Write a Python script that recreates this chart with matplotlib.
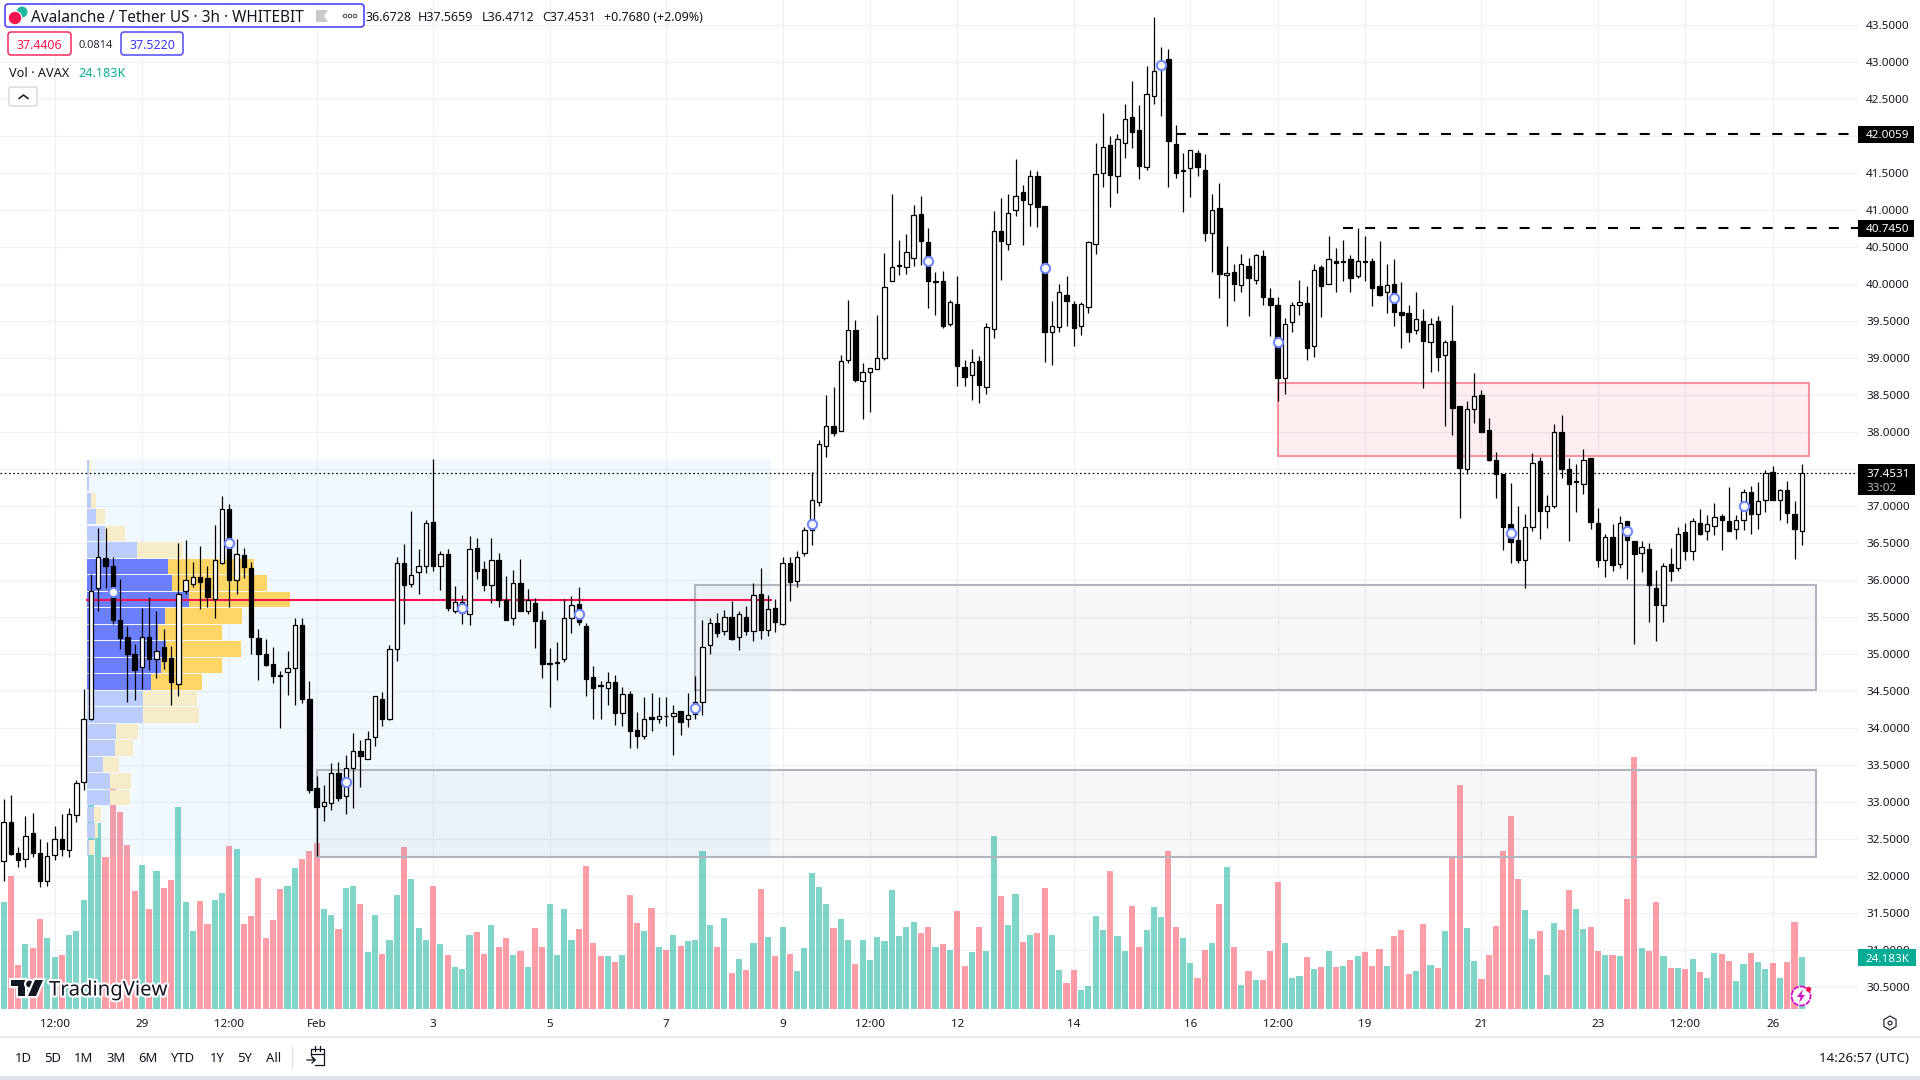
import matplotlib
matplotlib.use("Agg")
import matplotlib.pyplot as plt
import matplotlib.patheffects as pe
from matplotlib.patches import Rectangle, FancyBboxPatch, Circle, Polygon, RegularPolygon

plt.rcParams["font.family"] = ["Noto Sans", "DejaVu Sans"]

opens = [
    32.21, 32.73, 32.32, 32.24, 32.58, 32.32, 31.93, 32.29, 32.51, 32.35,
    32.83, 33.28, 34.12, 35.89, 36.30, 36.19, 35.47, 35.23, 35.01, 34.83,
    35.24, 34.93, 35.10, 34.95, 34.60, 35.86, 35.95, 36.04, 36.03, 35.75,
    36.24, 36.97, 36.00, 36.34, 36.16, 35.22, 35.00, 34.87, 34.72, 34.76,
    34.82, 35.39, 34.40, 33.19, 32.95, 32.99, 33.40, 33.08, 33.46, 33.70,
    33.59, 33.88, 34.40, 34.12, 35.07, 36.23, 35.95, 36.11, 36.19, 36.79,
    36.19, 36.36, 35.59, 35.56, 35.55, 36.43, 36.15, 35.93, 36.28, 35.73,
    35.49, 35.96, 35.59, 35.69, 35.47, 34.87, 34.88, 34.93, 35.49, 35.68,
    35.38, 34.69, 34.58, 34.55, 34.63, 34.21, 34.47, 33.98, 33.89, 34.15,
    34.13, 34.17, 34.16, 34.23, 34.12, 34.19, 34.35, 35.13, 35.42, 35.31,
    35.50, 35.23, 35.51, 35.32, 35.82, 35.33, 35.63, 35.41, 36.24, 35.99,
    36.37, 36.68, 37.06, 37.81, 38.09, 38.02, 38.98, 39.38, 38.70, 38.81,
    38.85, 39.00, 40.05, 40.25, 40.23, 40.36, 40.95, 40.57, 40.03, 40.04,
    39.47, 39.73, 38.88, 38.77, 38.96, 38.61, 39.39, 40.72, 40.54, 41.01,
    41.25, 41.09, 41.46, 41.06, 39.35, 39.42, 39.86, 39.73, 39.44, 39.70,
    40.55, 41.51, 41.88, 41.46, 41.91, 42.26, 42.09, 41.59, 42.54, 42.93,
    43.04, 41.89, 41.53, 41.57, 41.77, 41.54, 40.69, 41.03, 40.12, 40.16,
    39.99, 40.25, 40.06, 40.38, 39.81, 39.72, 38.74, 39.49, 39.72, 39.75,
    39.16, 40.23, 40.00, 40.31, 40.30, 40.34, 40.11, 40.31, 40.32, 39.98,
    39.89, 40.01, 39.63, 39.61, 39.38, 39.51, 39.22, 39.50, 39.05, 39.24,
    38.35, 37.51, 38.31, 38.51, 38.03, 37.62, 37.43, 36.76, 36.55, 36.28,
    36.72, 37.61, 36.94, 37.01, 38.01, 37.50, 37.33, 37.30, 37.65, 36.77,
    36.27, 36.58, 36.22, 36.80, 36.53, 36.37, 36.42, 35.89, 35.67, 36.22,
    36.16, 36.65, 36.40, 36.77, 36.66, 36.74, 36.87, 36.80, 36.69, 36.81,
    37.19, 36.89, 37.09, 37.46, 37.08, 37.22, 36.89, 36.67,
]
closes = [
    32.73, 32.30, 32.22, 32.55, 32.32, 31.93, 32.28, 32.50, 32.37, 32.84,
    33.26, 34.12, 35.86, 36.31, 36.20, 35.46, 35.22, 35.01, 34.79, 35.24,
    34.93, 35.04, 34.91, 34.63, 35.82, 36.01, 36.04, 35.98, 35.78, 36.28,
    36.97, 36.01, 36.35, 36.18, 35.24, 35.00, 34.86, 34.71, 34.71, 34.82,
    35.39, 34.39, 33.16, 32.94, 33.01, 33.40, 33.06, 33.46, 33.69, 33.63,
    33.86, 34.43, 34.13, 35.07, 36.23, 35.94, 36.07, 36.20, 36.78, 36.20,
    36.35, 35.63, 35.71, 35.71, 36.42, 36.12, 35.93, 36.28, 35.74, 35.47,
    35.96, 35.59, 35.73, 35.45, 34.87, 34.88, 34.90, 35.49, 35.66, 35.43,
    34.66, 34.55, 34.57, 34.63, 34.21, 34.47, 33.97, 33.90, 34.13, 34.12,
    34.16, 34.16, 34.21, 34.09, 34.18, 34.35, 35.10, 35.42, 35.29, 35.51,
    35.21, 35.55, 35.32, 35.80, 35.33, 35.61, 35.43, 36.24, 35.98, 36.31,
    36.68, 37.09, 37.84, 38.08, 37.99, 38.96, 39.38, 38.71, 38.81, 38.87,
    39.01, 39.97, 40.23, 40.26, 40.43, 40.93, 40.59, 40.04, 40.04, 39.43,
    39.76, 38.89, 38.75, 38.95, 38.64, 39.42, 40.72, 40.58, 40.97, 41.20,
    41.14, 41.47, 41.05, 39.36, 39.44, 39.89, 39.77, 39.41, 39.73, 40.57,
    41.49, 41.85, 41.48, 41.96, 42.24, 42.06, 41.60, 42.57, 42.88, 43.00,
    41.93, 41.50, 41.54, 41.81, 41.58, 40.70, 41.00, 40.14, 40.15, 40.01,
    40.27, 40.08, 40.39, 39.83, 39.72, 38.74, 39.47, 39.72, 39.76, 39.14,
    40.20, 39.98, 40.34, 40.29, 40.31, 40.08, 40.31, 40.30, 39.95, 39.86,
    39.99, 39.62, 39.59, 39.36, 39.53, 39.24, 39.47, 39.02, 39.22, 38.33,
    37.52, 38.31, 38.49, 38.01, 37.63, 37.43, 36.72, 36.52, 36.28, 36.72,
    37.59, 36.94, 37.00, 38.01, 37.51, 37.30, 37.34, 37.63, 36.79, 36.28,
    36.59, 36.21, 36.78, 36.55, 36.36, 36.45, 35.93, 35.66, 36.19, 36.13,
    36.63, 36.39, 36.80, 36.62, 36.76, 36.85, 36.81, 36.66, 36.81, 37.19,
    36.89, 37.07, 37.45, 37.09, 37.22, 36.91, 36.69, 37.45,
]
highs = [
    33.05, 33.10, 32.40, 32.81, 32.85, 32.50, 32.46, 32.68, 32.84, 32.92,
    33.30, 34.53, 36.08, 36.71, 36.71, 36.31, 36.02, 35.38, 35.14, 35.63,
    35.77, 35.58, 35.34, 35.11, 36.50, 36.55, 36.25, 36.46, 36.19, 36.75,
    37.14, 37.03, 36.56, 36.44, 36.25, 35.34, 35.21, 35.10, 34.77, 35.05,
    35.49, 35.49, 34.64, 33.36, 33.23, 33.53, 33.54, 33.64, 33.93, 33.84,
    33.96, 34.43, 34.49, 35.13, 36.31, 36.49, 36.94, 36.42, 36.82, 37.64,
    36.39, 36.42, 35.92, 35.80, 36.60, 36.57, 36.26, 36.57, 36.37, 36.06,
    36.14, 36.29, 35.88, 35.76, 35.59, 35.09, 35.17, 35.75, 35.79, 35.91,
    35.42, 34.84, 34.64, 34.76, 34.72, 34.56, 34.50, 34.22, 34.42, 34.48,
    34.42, 34.42, 34.32, 34.23, 34.48, 34.71, 35.47, 35.49, 35.56, 35.60,
    35.72, 35.58, 35.65, 35.97, 36.17, 35.80, 35.75, 36.31, 36.31, 36.39,
    36.72, 37.46, 37.90, 38.50, 38.61, 39.04, 39.79, 39.52, 38.93, 38.87,
    39.59, 40.42, 41.22, 40.60, 40.68, 41.07, 41.20, 40.76, 40.17, 40.18,
    39.79, 40.11, 38.98, 39.13, 39.03, 39.48, 40.99, 41.16, 41.22, 41.70,
    41.34, 41.54, 41.53, 41.06, 39.77, 40.00, 40.11, 39.77, 39.76, 40.59,
    41.91, 42.31, 42.00, 42.03, 42.44, 42.75, 42.42, 42.95, 43.61, 43.21,
    43.18, 42.15, 41.78, 41.81, 41.82, 41.76, 41.22, 41.37, 40.52, 40.27,
    40.41, 40.35, 40.41, 40.46, 39.95, 39.83, 39.54, 39.76, 40.06, 39.98,
    40.27, 40.26, 40.65, 40.49, 40.60, 40.40, 40.76, 40.65, 40.36, 40.59,
    40.27, 40.34, 40.03, 39.72, 39.89, 39.67, 39.54, 39.57, 39.25, 39.72,
    38.35, 38.42, 38.80, 38.57, 38.19, 37.73, 37.43, 37.31, 37.01, 36.90,
    37.72, 37.67, 37.15, 38.11, 38.23, 37.65, 37.57, 37.77, 37.65, 36.98,
    36.63, 36.76, 36.87, 36.80, 36.53, 36.53, 36.50, 36.14, 36.23, 36.43,
    36.72, 36.77, 36.84, 36.96, 36.88, 37.04, 36.90, 37.26, 36.88, 37.24,
    37.27, 37.33, 37.49, 37.54, 37.23, 37.34, 37.07, 37.57,
]
lows = [
    31.93, 32.29, 32.12, 32.12, 32.26, 31.85, 31.87, 32.22, 32.27, 32.26,
    32.73, 33.17, 34.11, 35.59, 35.90, 35.41, 35.07, 34.36, 34.38, 34.53,
    34.79, 34.68, 34.80, 34.31, 34.44, 35.81, 35.91, 35.61, 35.64, 35.49,
    36.22, 35.64, 35.82, 36.03, 35.00, 34.65, 34.84, 34.61, 34.00, 34.45,
    34.31, 34.34, 33.13, 32.27, 32.75, 32.90, 33.02, 32.84, 32.92, 33.21,
    33.59, 33.76, 34.03, 34.11, 34.91, 35.41, 35.91, 35.82, 36.10, 36.12,
    35.87, 35.59, 35.56, 35.41, 35.40, 36.02, 35.86, 35.70, 35.64, 35.46,
    35.39, 35.59, 35.54, 35.08, 34.68, 34.29, 34.65, 34.89, 35.29, 35.39,
    34.44, 34.12, 34.12, 34.31, 34.04, 34.03, 33.74, 33.74, 33.86, 33.96,
    34.07, 34.03, 33.64, 33.91, 34.02, 34.13, 34.18, 35.00, 35.24, 35.26,
    35.19, 35.06, 35.26, 35.18, 35.21, 35.25, 35.30, 35.40, 35.72, 35.91,
    36.33, 36.48, 37.00, 37.67, 37.95, 38.02, 38.94, 38.68, 38.18, 38.27,
    38.85, 38.98, 40.05, 40.12, 40.14, 40.25, 40.26, 39.68, 39.58, 39.41,
    39.43, 38.63, 38.62, 38.43, 38.40, 38.52, 39.27, 40.06, 40.47, 40.92,
    40.53, 40.79, 40.77, 38.95, 38.91, 39.36, 39.44, 39.16, 39.31, 39.61,
    40.41, 41.31, 41.05, 41.24, 41.71, 41.84, 41.42, 41.55, 42.44, 42.27,
    41.32, 41.44, 40.98, 41.18, 41.46, 40.59, 40.17, 39.81, 39.43, 39.77,
    39.89, 39.57, 40.01, 39.72, 39.30, 38.42, 38.52, 39.36, 39.58, 38.98,
    39.02, 39.56, 40.00, 39.89, 40.04, 39.89, 40.08, 40.04, 39.71, 39.84,
    39.61, 39.44, 39.14, 39.22, 39.33, 38.60, 38.81, 38.83, 38.09, 37.96,
    36.84, 37.44, 38.13, 38.01, 37.61, 37.11, 36.41, 36.24, 36.24, 35.90,
    36.67, 36.56, 36.71, 36.98, 37.38, 36.53, 36.92, 37.17, 36.69, 36.18,
    36.05, 36.12, 36.16, 36.02, 35.14, 36.11, 35.43, 35.18, 35.43, 35.99,
    36.13, 36.27, 36.27, 36.61, 36.54, 36.61, 36.41, 36.66, 36.56, 36.68,
    36.63, 36.69, 36.92, 37.09, 36.81, 36.78, 36.29, 36.48,
]
# volume in thousands of AVAX
volumes = [
    49.8, 61.8, 20.5, 30.2, 28.4, 41.9, 33.0, 24.2, 25.1, 34.4,
    36.3, 50.7, 95.6, 86.5, 70.7, 108.8, 91.6, 76.3, 54.9, 67.0,
    46.5, 64.2, 56.3, 60.0, 93.9, 49.8, 36.3, 50.2, 39.5, 50.7,
    53.9, 75.8, 74.4, 39.5, 43.2, 60.9, 33.0, 41.4, 55.8, 57.2,
    65.6, 69.8, 73.5, 77.2, 46.5, 43.7, 37.2, 56.3, 57.2, 48.8,
    26.5, 43.7, 25.6, 32.1, 53.0, 75.3, 60.5, 37.7, 32.1, 57.2,
    30.2, 25.1, 19.5, 18.6, 34.4, 35.8, 25.6, 39.1, 28.8, 33.0,
    25.1, 27.0, 19.5, 37.7, 28.8, 48.8, 25.1, 46.5, 32.1, 37.2,
    66.5, 30.7, 24.6, 24.6, 21.9, 25.1, 53.0, 40.0, 36.3, 47.0,
    28.8, 27.4, 34.4, 29.3, 31.6, 32.1, 73.5, 39.1, 28.8, 42.3,
    16.7, 23.3, 18.1, 30.7, 55.8, 33.5, 24.6, 38.1, 25.6, 17.7,
    28.4, 63.2, 56.7, 48.8, 37.7, 41.9, 32.1, 20.9, 32.1, 22.8,
    33.5, 31.6, 55.3, 33.9, 38.1, 40.5, 35.3, 38.1, 28.8, 30.2,
    27.4, 45.6, 20.0, 26.5, 38.1, 27.0, 80.4, 52.5, 39.1, 53.5,
    31.2, 34.4, 35.3, 56.3, 34.4, 18.1, 12.1, 18.1, 8.8, 10.7,
    43.2, 36.7, 64.2, 33.9, 27.0, 47.9, 28.8, 36.7, 47.4, 42.8,
    73.5, 38.1, 33.0, 21.4, 14.4, 27.4, 30.7, 48.8, 66.0, 28.8,
    11.2, 17.7, 13.5, 13.5, 27.0, 59.1, 30.7, 14.4, 15.3, 24.2,
    18.6, 19.5, 27.0, 19.5, 20.0, 22.8, 24.6, 26.5, 20.0, 27.9,
    20.0, 33.9, 36.7, 16.3, 17.7, 39.5, 20.5, 19.1, 36.3, 70.7,
    104.2, 37.7, 22.3, 14.0, 25.1, 38.6, 73.5, 89.7, 60.5, 46.0,
    32.6, 36.3, 15.8, 40.0, 36.7, 55.3, 46.5, 37.2, 38.1, 27.0,
    25.1, 25.1, 24.6, 51.2, 117.2, 28.4, 27.0, 49.8, 24.6, 19.1,
    19.1, 18.6, 23.3, 17.2, 14.4, 26.0, 25.6, 22.3, 13.0, 20.9,
    26.0, 21.9, 18.6, 21.4, 14.4, 21.9, 40.5, 24.18,
]

# blue circles on the chart, every 16 bars
mark_bars = [15, 31, 47, 63, 79, 95, 111, 127, 143, 159, 175, 191, 207, 223, 239]
mark_prices = [35.84, 36.50, 33.27, 35.63, 35.55, 34.27, 36.76, 40.31, 40.22, 42.97,
               39.22, 39.81, 36.64, 36.67, 37.00]

tick_bars = [7, 19, 31, 43, 59, 75, 91, 107, 119, 131, 147, 163, 175, 187, 203, 219, 231, 243]
tick_labels = ["12:00", "29", "12:00", "Feb", "3", "5", "7", "9", "12:00", "12",
               "14", "16", "12:00", "19", "21", "23", "12:00", "26"]
price_ticks = [30.5 + 0.5 * k for k in range(27)]

# volume profile rows, top row first, in profile units
vp_top = 37.64
vp_row = 0.2233
vp_buy = [6, 5, 12, 27, 55, 150, 243, 255, 306, 234, 212, 237, 222, 192, 168, 168,
          87, 84, 48, 69, 69, 21, 24, 6]
vp_sell = [6, 2, 15, 27, 59, 138, 258, 285, 303, 231, 193, 225, 183, 153, 162, 168,
           66, 54, 48, 63, 60, 21, 9, 15]
vp_value_rows = range(6, 14)
poc_price = 35.74

last_price = 37.4531
level_prices = [42.03, 40.76]
level_starts = [161, 184]
level_labels = ["42.0059", "40.7450"]

range_buttons = ["1D", "5D", "1M", "3M", "6M", "YTD", "1Y", "5Y", "All"]
range_button_x = [23, 52.6, 84, 116, 148, 183, 217, 245, 274]

UP = "#00AD93"
DOWN = "#FF3D51"
INK = "#131722"
GRID = "#eff1f5"

fig = plt.figure(figsize=(19.2, 10.8), dpi=100)
fig.patch.set_facecolor("white")

rect = [0, 71 / 1080, 1858 / 1920, 1009 / 1080]
xlim = (-0.4945, 254.72)
ylim = (30.207, 43.842)

grid_ax = fig.add_axes(rect)
vol_ax = fig.add_axes(rect, sharex=grid_ax)
ax = fig.add_axes(rect, sharex=grid_ax, sharey=grid_ax)

# background axes holds the grid and both tick label sets
grid_ax.set_xlim(xlim)
grid_ax.set_ylim(ylim)
grid_ax.set_xticks(tick_bars)
grid_ax.set_xticklabels(tick_labels, fontsize=8.4, color=INK)
for lab in grid_ax.get_xticklabels():
    if lab.get_text() == "Feb":
        lab.set_fontweight("bold")
grid_ax.set_yticks(price_ticks)
grid_ax.set_yticklabels(["%.4f" % p for p in price_ticks], fontsize=8.4, color=INK)
grid_ax.yaxis.tick_right()
grid_ax.tick_params(axis="both", length=0)
grid_ax.tick_params(axis="y", pad=5.8)
grid_ax.tick_params(axis="x", pad=7.3)
grid_ax.grid(True, color=GRID, lw=0.9)
grid_ax.set_axisbelow(True)
for s in grid_ax.spines.values():
    s.set_visible(False)

bars = list(range(len(closes)))
vol_colors = [UP if c >= o else DOWN for o, c in zip(opens, closes)]
vol_ax.bar(bars, volumes, width=0.84, color=vol_colors, alpha=0.5, linewidth=0)
vol_ax.set_ylim(0, 469.2)
vol_ax.axis("off")
vol_ax.patch.set_visible(False)

ax.axis("off")
ax.patch.set_visible(False)

# zones
ax.add_patch(Rectangle((11.46, 32.28), 93.9, 5.36, fc="#2196f3", alpha=0.055, lw=0, zorder=1))
for (x0, x1, lo, hi) in [(43, 249, 32.26, 33.44), (95, 249, 34.52, 35.94)]:
    ax.add_patch(Rectangle((x0, lo), x1 - x0, hi - lo, fc=(0.47, 0.48, 0.55, 0.06),
                           ec="#b2b5be", lw=1.5, zorder=2))
ax.add_patch(Rectangle((175, 37.68), 73, 0.98, fc=(0.95, 0.21, 0.27, 0.085),
                       ec="#f7929f", lw=1.5, zorder=2))

# volume profile
px_per_bar = 7.28
vp_scale = 1 / (3 * px_per_bar)
for k in range(len(vp_buy)):
    inside = k in vp_value_rows
    y = vp_top - (k + 0.5) * vp_row
    w1 = vp_buy[k] * vp_scale
    w2 = vp_sell[k] * vp_scale
    ax.barh(y, w1, left=11.46, height=vp_row * 0.93, lw=0, zorder=3,
            color="#6b7ffd" if inside else "#bccdfd")
    ax.barh(y, w2, left=11.46 + w1, height=vp_row * 0.93, lw=0, zorder=3,
            color="#ffd566" if inside else "#f6edc8")
ax.plot([11.46, 105.4], [poc_price, poc_price], color="#f9104f", lw=1.5, zorder=3.5)

# dashed levels and last price line
for lvl, start in zip(level_prices, level_starts):
    ax.plot([start, xlim[1]], [lvl, lvl], color="black", lw=1.5, zorder=4,
            dashes=(4.8, 5.8), dash_capstyle="butt")
ax.plot(xlim, [last_price, last_price], color="black", lw=0.9, zorder=4,
        dashes=(1.3, 2.1), dash_capstyle="butt")

# candles
for i in bars:
    ax.plot([i, i], [lows[i], highs[i]], color="black", lw=0.9, zorder=5,
            solid_capstyle="butt")
    top = max(opens[i], closes[i])
    bot = min(opens[i], closes[i])
    if closes[i] >= opens[i]:
        ax.bar(i, top - bot, bottom=bot, width=0.6, fc="white", ec="black", lw=0.9, zorder=6)
    else:
        ax.bar(i, top - bot, bottom=bot, width=0.6, fc="black", ec="black", lw=0.9, zorder=6)
ax.scatter(mark_bars, mark_prices, s=44, fc="white", ec="#7088fb", lw=1.5, zorder=7)

ax.set_xlim(xlim)
ax.set_ylim(ylim)

# screen furniture, in pixel coordinates
ui = fig.add_axes([0, 0, 1, 1])
ui.set_xlim(0, 1920)
ui.set_ylim(1080, 0)
ui.axis("off")
ui.patch.set_visible(False)


def box(x0, y0, x1, y1, ec, fc="white", r=3, lw=1.0, z=10):
    ui.add_patch(FancyBboxPatch((x0 + r, y0 + r), x1 - x0 - 2 * r, y1 - y0 - 2 * r,
                                boxstyle="round,pad=%d" % r, fc=fc, ec=ec, lw=lw, zorder=z))


def label(x, y, s, size=8.4, color=INK, ha="left", **kw):
    ui.text(x, y, s, fontsize=size, color=color, ha=ha, va="center_baseline", zorder=12, **kw)


# header
box(5, 4, 364, 27, "#3f37f5", lw=1.1)
ui.add_patch(Circle((22, 12), 5.5, fc="#1fb7a0", lw=0, zorder=11))
ui.add_patch(Circle((15, 18), 6.8, fc="#f5164f", ec="white", lw=0.8, zorder=11))
label(31, 16, "Avalanche / Tether US · 3h · WHITEBIT", size=11.05)
ui.add_patch(Polygon([(316, 10), (328, 10), (324, 16), (328, 22), (316, 22)], fc="#c9cad0", lw=0, zorder=11))
for dx in [345, 350, 355]:
    ui.add_patch(Circle((dx, 16), 1.7, fc="white", ec="#50535e", lw=0.8, zorder=11))
for x, s in [(365, "36.6728"), (417.7, "H37.5659"), (481.7, "L36.4712"), (542, "C37.4531"),
             (604, "+0.7680 (+2.09%)")]:
    label(x, 16, s, size=9.0)

box(8, 32, 71, 55, "#f5164f", r=3)
label(39.5, 44, "37.4406", color="#f5164f", ha="center", size=8.9)
label(96, 44, "0.0814", ha="center", size=8, color="#2a2e39")
box(121, 32, 183, 55, "#3f37f5", r=3)
label(152, 44, "37.5220", color="#3f37f5", ha="center", size=8.9)
label(9, 72, "Vol · AVAX", size=9.2)
label(78, 72, "24.183K", color="#0aae96", size=9.1)
box(9, 87, 37, 106, "#d5d7dc", r=2)
ui.plot([19, 23.5, 28], [98.5, 95, 98.5], color=INK, lw=1.1, zorder=12)

# price tags
for lvl_y, s in [(134.5, level_labels[0]), (228.5, level_labels[1])]:
    ui.add_patch(Rectangle((1858, lvl_y - 8.5), 56, 17, fc="black", lw=0, zorder=10))
    label(1866, lvl_y, s, color="white")
ui.add_patch(Rectangle((1858, 464), 57, 31, fc="black", lw=0, zorder=10))
label(1866, 473, "37.4531", color="white")
label(1866, 487, "33:02", color="#b8b9bf")
ui.add_patch(Rectangle((1858, 949), 58, 17, fc="#02ab94", lw=0, zorder=10))
label(1866, 957.5, "24.183K", color="white")

# watermark
halo = [pe.withStroke(linewidth=3, foreground="white")]
for shape in [Polygon([(11, 980), (25, 980), (25, 996), (18, 996), (18, 986), (11, 986)], fc=INK, lw=0, zorder=11),
              Circle((29.5, 984), 3.4, fc=INK, lw=0, zorder=11),
              Polygon([(35, 980), (43, 980), (36, 996), (28, 996)], fc=INK, lw=0, zorder=11)]:
    shape.set_path_effects(halo)
    ui.add_patch(shape)
label(49, 988, "TradingView", size=14.6, fontweight="semibold", path_effects=halo)

# lightning badge on the last bar
ui.add_patch(Circle((1801, 996), 9.5, fc="white", ec="#cc14c4", lw=1.3, ls=(0, (3, 0.6)), zorder=11))
ui.add_patch(Polygon([(1803, 989), (1797, 997), (1800.5, 997), (1799, 1003), (1805, 995), (1801.5, 995)],
                     fc="#cc14c4", lw=0, zorder=12))
ui.add_patch(Circle((1808.6, 989.3), 2.6, fc="#f5164f", lw=0, zorder=12))

# settings hexagon
ui.add_patch(RegularPolygon((1890, 1023), 6, radius=7, fc="white", ec="#2a2e39", lw=0.9, zorder=11))
ui.add_patch(Circle((1890, 1023), 1.9, fc="white", ec="#2a2e39", lw=0.9, zorder=12))

# bottom strip
ui.plot([0, 1920], [1037, 1037], color="#e0e3eb", lw=1.1, zorder=9)
ui.add_patch(Rectangle((0, 1076), 1920, 4, fc="#e0e3eb", lw=0, zorder=9))
for x, s in zip(range_button_x, range_buttons):
    label(x, 1056.5, s, ha="center", size=9.4)
ui.plot([292, 292], [1046, 1068], color="#e0e3eb", lw=0.9, zorder=9)
ui.plot([311, 311, 324, 324, 315], [1055, 1049, 1049, 1065, 1065], color=INK, lw=0.9, zorder=11)
ui.plot([311, 324], [1054, 1054], color=INK, lw=0.9, zorder=11)
ui.plot([315, 315], [1046, 1051], color=INK, lw=0.9, zorder=11)
ui.plot([320, 320], [1046, 1051], color=INK, lw=0.9, zorder=11)
ui.plot([307, 315, 312, 315, 312], [1060, 1060, 1057, 1060, 1063], color=INK, lw=0.9, zorder=11)
label(1909, 1057, "14:26:57 (UTC)", ha="right", size=9.6)

fig.savefig("out.png", dpi=100, facecolor="white")
